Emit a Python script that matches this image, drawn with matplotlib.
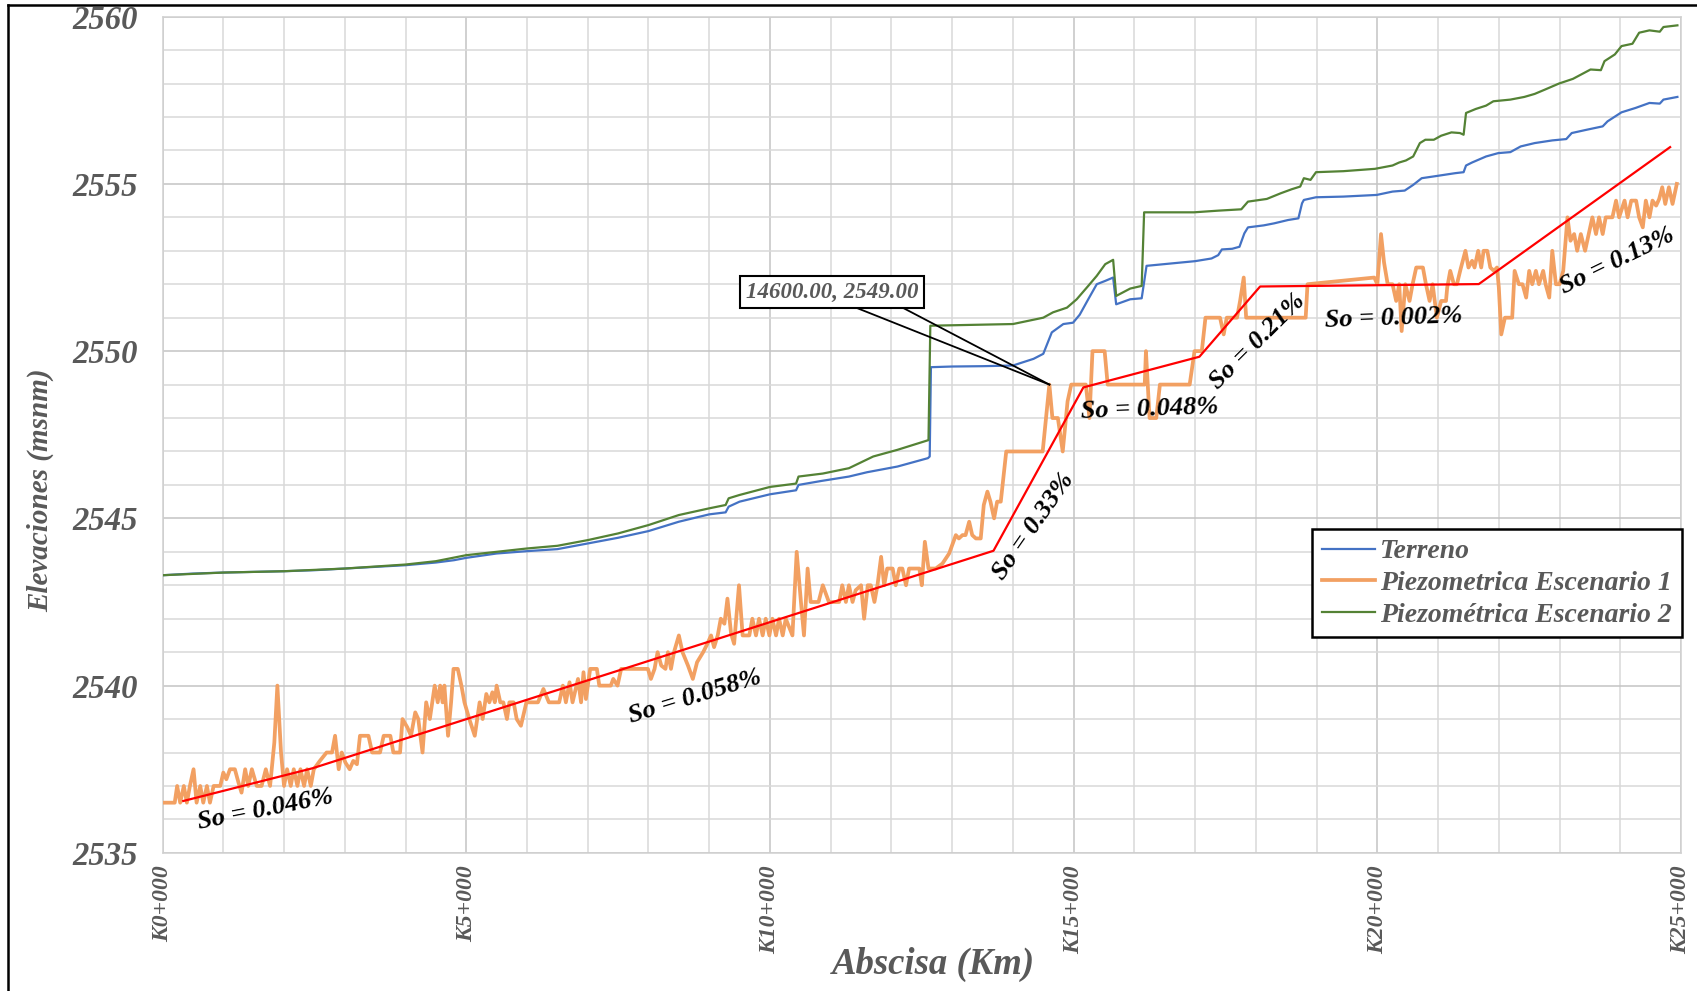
import numpy as np
import matplotlib.pyplot as plt
from matplotlib.lines import Line2D

plt.rcParams['font.family'] = ['Liberation Serif', 'DejaVu Serif']

GREY = '#595959'

# Terreno (abscisa en m, cota en msnm)
terreno_x = [0, 500, 1000, 1500, 2000, 2500, 3000, 3500, 4000, 4500, 4800, 5000,
             5500, 6000, 6500, 7000, 7500, 8000, 8500, 9000, 9270, 9320, 9500,
             10000, 10430, 10470, 10850, 11300, 11600, 12100, 12600, 12630, 12650,
             13000, 13500, 14000, 14340, 14500, 14640, 14830, 14990, 15100, 15240,
             15380, 15520, 15650, 15700, 15930, 16120, 16200, 16600, 17000, 17270,
             17380, 17440, 17610, 17730, 17810, 17870, 18130, 18300, 18530, 18700,
             18760, 18790, 18990, 19440, 19990, 20250, 20450, 20590, 20730, 20990,
             21280, 21420, 21460, 21560, 21790, 21990, 22190, 22360, 22590, 22880,
             23110, 23200, 23450, 23710, 23790, 24020, 24250, 24480, 24650, 24710,
             24940]
terreno_y = [2543.30, 2543.35, 2543.38, 2543.40, 2543.42, 2543.45, 2543.50, 2543.55,
             2543.60, 2543.68, 2543.75, 2543.82, 2543.95, 2544.02, 2544.08, 2544.25,
             2544.42, 2544.62, 2544.90, 2545.12, 2545.18, 2545.35, 2545.50, 2545.72,
             2545.84, 2546.00, 2546.12, 2546.25, 2546.38, 2546.55, 2546.80, 2546.85,
             2549.52, 2549.54, 2549.55, 2549.57, 2549.77, 2549.92, 2550.56, 2550.81,
             2550.85, 2551.09, 2551.55, 2552.00, 2552.10, 2552.20, 2551.40, 2551.55,
             2551.58, 2552.55, 2552.62, 2552.69, 2552.77, 2552.87, 2553.04, 2553.06,
             2553.12, 2553.52, 2553.70, 2553.76, 2553.82, 2553.92, 2553.97, 2554.42,
             2554.52, 2554.60, 2554.62, 2554.67, 2554.77, 2554.80, 2554.97, 2555.17,
             2555.24, 2555.32, 2555.35, 2555.55, 2555.64, 2555.82, 2555.92, 2555.95,
             2556.12, 2556.22, 2556.30, 2556.34, 2556.52, 2556.62, 2556.72, 2556.87,
             2557.14, 2557.27, 2557.42, 2557.40, 2557.52, 2557.60]

# Piezometrica escenario 1
esc1_x = [0, 200, 240, 290, 350, 400, 450, 510, 560, 620, 670, 730, 780, 840, 950,
          1000, 1050, 1110, 1190, 1250, 1300, 1360, 1410, 1470, 1550, 1630, 1700,
          1770, 1840, 1890, 1950, 2000, 2050, 2110, 2160, 2220, 2270, 2330, 2380,
          2440, 2490, 2590, 2700, 2790, 2840, 2900, 2950, 3010, 3080, 3140, 3200,
          3250, 3390, 3450, 3580, 3640, 3750, 3800, 3910, 3950, 4030, 4090, 4160,
          4210, 4280, 4340, 4400, 4480, 4530, 4570, 4610, 4640, 4700, 4750, 4790,
          4860, 4920, 4970, 5050, 5140, 5220, 5270, 5330, 5380, 5430, 5470, 5500,
          5560, 5610, 5670, 5710, 5780, 5830, 5900, 5990, 6100, 6180, 6270, 6360,
          6530, 6590, 6640, 6700, 6750, 6840, 6890, 6930, 6970, 7040, 7150, 7190,
          7380, 7420, 7490, 7550, 7990, 8040, 8100, 8150, 8210, 8280, 8320, 8370,
          8420, 8500, 8560, 8650, 8730, 8800, 8900, 8970, 9030, 9080, 9140, 9190,
          9250, 9300, 9360, 9410, 9490, 9550, 9660, 9710, 9770, 9820, 9880, 9930,
          9990, 10040, 10100, 10150, 10210, 10260, 10370, 10440, 10510, 10560,
          10620, 10670, 10800, 10870, 10920, 10970, 11140, 11190, 11250, 11300,
          11360, 11410, 11500, 11550, 11610, 11660, 11720, 11770, 11830, 11880,
          11930, 12020, 12070, 12130, 12180, 12240, 12290, 12460, 12500, 12550,
          12610, 12730, 12840, 12950, 13060, 13110, 13170, 13220, 13280, 13330,
          13390, 13470, 13520, 13580, 13630, 13690, 13740, 13800, 13890, 14490,
          14600, 14650, 14740, 14820, 14900, 14960, 15200, 15260, 15310, 15510,
          15560, 16170, 16190, 16250, 16360, 16420, 16910, 16990, 17110, 17170,
          17410, 17470, 17520, 17690, 17740, 17800, 17840, 18820, 18850, 19950,
          20000, 20060, 20110, 20170, 20250, 20310, 20360, 20400, 20460, 20530,
          20580, 20640, 20750, 20800, 20860, 20910, 20980, 21050, 21130, 21150,
          21200, 21260, 21310, 21370, 21450, 21500, 21560, 21600, 21660, 21710,
          21750, 21810, 21860, 21920, 21970, 22000, 22040, 22100, 22220, 22260,
          22330, 22390, 22450, 22500, 22550, 22610, 22660, 22730, 22770, 22830,
          22880, 22940, 23000, 23060, 23130, 23180, 23240, 23290, 23350, 23420,
          23480, 23540, 23600, 23650, 23710, 23760, 23870, 23930, 23980, 24070,
          24120, 24180, 24260, 24310, 24370, 24420, 24480, 24530, 24590, 24640,
          24690, 24740, 24800, 24860, 24930]
esc1_y = [2536.5, 2536.5, 2537.0, 2536.5, 2537.0, 2536.5, 2537.0, 2537.5, 2536.5,
          2537.0, 2536.5, 2537.0, 2536.5, 2537.0, 2537.0, 2537.4, 2537.2, 2537.5,
          2537.5, 2537.1, 2536.8, 2537.5, 2537.0, 2537.5, 2537.0, 2537.0, 2537.5,
          2537.0, 2538.3, 2540.0, 2538.0, 2537.0, 2537.5, 2537.0, 2537.5, 2537.0,
          2537.5, 2537.0, 2537.5, 2537.0, 2537.5, 2537.75, 2538.0, 2538.0, 2538.5,
          2537.5, 2538.0, 2537.7, 2537.5, 2537.75, 2537.65, 2538.5, 2538.5, 2538.0,
          2538.0, 2538.5, 2538.5, 2538.0, 2538.0, 2539.0, 2538.75, 2538.5, 2539.2,
          2539.0, 2538.0, 2539.5, 2539.0, 2540.0, 2539.5, 2540.0, 2539.5, 2540.0,
          2538.5, 2539.5, 2540.5, 2540.5, 2540.0, 2539.5, 2539.0, 2538.5, 2539.5,
          2539.0, 2539.75, 2539.5, 2539.8, 2539.5, 2540.0, 2539.5, 2539.5, 2539.0,
          2539.5, 2539.5, 2539.0, 2538.8, 2539.5, 2539.5, 2539.5, 2539.9, 2539.5,
          2539.5, 2540.0, 2539.5, 2540.1, 2539.5, 2540.2, 2539.5, 2540.4, 2539.6,
          2540.5, 2540.5, 2540.0, 2540.0, 2540.2, 2540.0, 2540.5, 2540.5, 2540.2,
          2540.5, 2541.0, 2540.6, 2540.5, 2541.0, 2540.5, 2541.0, 2541.5, 2541.0,
          2540.6, 2540.2, 2540.7, 2541.0, 2541.25, 2541.5, 2541.15, 2541.5, 2542.0,
          2541.85, 2542.6, 2541.55, 2541.25, 2543.0, 2541.5, 2541.5, 2542.0, 2541.5,
          2542.0, 2541.5, 2542.0, 2541.5, 2542.0, 2541.5, 2542.0, 2541.5, 2542.0,
          2541.5, 2544.0, 2542.5, 2541.5, 2543.5, 2542.5, 2542.5, 2543.0, 2542.75,
          2542.5, 2542.5, 2543.0, 2542.5, 2543.0, 2542.5, 2542.85, 2543.0, 2542.0,
          2543.0, 2543.0, 2542.5, 2543.0, 2543.85, 2543.0, 2543.5, 2543.5, 2543.0,
          2543.5, 2543.5, 2543.0, 2543.5, 2543.5, 2543.0, 2544.3, 2543.5, 2543.5,
          2543.65, 2543.95, 2544.5, 2544.4, 2544.5, 2544.5, 2544.9, 2544.5, 2544.4,
          2544.4, 2545.4, 2545.8, 2545.5, 2545.0, 2545.5, 2545.5, 2547.0, 2547.0,
          2549.0, 2548.0, 2548.0, 2547.0, 2548.5, 2549.0, 2549.0, 2548.0, 2550.0,
          2550.0, 2549.0, 2549.0, 2550.0, 2548.0, 2548.0, 2549.0, 2549.0, 2550.0,
          2550.0, 2551.0, 2551.0, 2550.5, 2551.0, 2551.0, 2551.5, 2552.2, 2551.0,
          2551.0, 2552.0, 2552.2, 2552.0, 2553.5, 2552.65, 2552.0, 2552.0, 2551.5,
          2552.0, 2550.6, 2552.0, 2551.5, 2552.0, 2552.5, 2552.5, 2552.0, 2551.5,
          2552.0, 2551.0, 2551.5, 2551.5, 2551.9, 2552.4, 2552.0, 2552.0, 2552.45,
          2553.0, 2552.5, 2552.7, 2552.5, 2553.0, 2552.5, 2553.0, 2553.0, 2552.5,
          2552.4, 2552.5, 2551.9, 2550.5, 2551.0, 2551.0, 2552.4, 2552.0, 2552.0,
          2551.6, 2552.4, 2552.0, 2552.4, 2552.0, 2552.4, 2552.0, 2551.6, 2553.0,
          2552.0, 2552.0, 2552.4, 2554.0, 2553.3, 2553.5, 2553.0, 2553.5, 2553.0,
          2553.5, 2554.0, 2553.5, 2554.0, 2553.5, 2554.0, 2554.0, 2554.5, 2554.0,
          2554.5, 2554.0, 2554.5, 2554.5, 2554.0, 2553.7, 2554.5, 2554.0, 2554.5,
          2554.35, 2554.55, 2554.9, 2554.4, 2554.9, 2554.4, 2555.0]

# Piezometrica escenario 2
esc2_x = [0, 1000, 2000, 3000, 4000, 4500, 5000, 5500, 6000, 6500, 7000, 7500,
          8000, 8500, 9000, 9270, 9320, 9500, 10000, 10430, 10470, 10870, 11300,
          11700, 12100, 12610, 12640, 14000, 14500, 14660, 14890, 15050, 15240,
          15380, 15520, 15650, 15700, 15930, 16120, 16160, 16980, 17380, 17760,
          17870, 18180, 18410, 18590, 18730, 18790, 18900, 18990, 19440, 19960,
          20250, 20360, 20470, 20590, 20700, 20790, 20930, 21050, 21220, 21360,
          21420, 21460, 21620, 21790, 21910, 22190, 22420, 22590, 22760, 22990,
          23220, 23510, 23680, 23740, 23910, 24020, 24200, 24310, 24480, 24650,
          24710, 24940]
esc2_y = [2543.30, 2543.38, 2543.42, 2543.50, 2543.62, 2543.72, 2543.90, 2544.00,
          2544.10, 2544.18, 2544.35, 2544.55, 2544.80, 2545.10, 2545.30, 2545.40,
          2545.60, 2545.70, 2545.94, 2546.04, 2546.25, 2546.34, 2546.50, 2546.85,
          2547.05, 2547.34, 2550.76, 2550.81, 2551.00, 2551.16, 2551.30, 2551.55,
          2551.95, 2552.25, 2552.60, 2552.73, 2551.65, 2551.87, 2551.95, 2554.15,
          2554.15, 2554.20, 2554.24, 2554.47, 2554.55, 2554.72, 2554.84, 2554.92,
          2555.17, 2555.12, 2555.35, 2555.38, 2555.45, 2555.55, 2555.64, 2555.70,
          2555.82, 2556.22, 2556.32, 2556.32, 2556.44, 2556.54, 2556.52, 2556.47,
          2557.12, 2557.24, 2557.34, 2557.47, 2557.52, 2557.60, 2557.69, 2557.82,
          2558.00, 2558.14, 2558.42, 2558.40, 2558.67, 2558.87, 2559.12, 2559.19,
          2559.52, 2559.59, 2559.55, 2559.69, 2559.74]

# tramos de pendiente So (%): quiebres de la poligonal y cota inicial
so_values = [0.046, 0.058, 0.33, 0.048, 0.21, 0.002, 0.13]
so_break_x = [340, 2470, 13680, 15160, 17070, 18070, 21670, 24820]
so_y0 = 2536.55
so_text_x = [1690, 8760, 14340, 16250, 18030, 20270, 23950]
so_text_y = [2536.29, 2539.67, 2544.76, 2548.27, 2550.30, 2550.98, 2552.70]
so_text_rot = [11, 17, 55, 2, 45, 2, 26]

# punto senalado
callout_x = 14600
callout_y = 2549.0

xtick_pos = [0, 5000, 10000, 15000, 20000, 25000]
xtick_lbl = ['K0+000', 'K5+000', 'K10+000', 'K15+000', 'K20+000', 'K25+000']
ytick_pos = [2535, 2540, 2545, 2550, 2555, 2560]

fig = plt.figure(figsize=(16.97, 9.91), dpi=100)
ax = fig.add_axes([0.0958, 0.1394, 0.8948, 0.8438])

ax.plot(terreno_x, terreno_y, color='#4472C4', lw=1.6, label='Terreno', zorder=3)
ax.plot(esc1_x, esc1_y, color='#F2A062', lw=2.7, label='Piezometrica Escenario 1', zorder=3)
ax.plot(esc2_x, esc2_y, color='#548235', lw=1.6, label='Piezométrica Escenario 2', zorder=3)

# poligonal de pendientes: cada tramo sube So% de su longitud
bx = np.array(so_break_x, dtype=float)
by = so_y0 + np.concatenate([[0], np.cumsum(np.array(so_values) / 100 * np.diff(bx))])
ax.plot(bx, by, color='#FF0000', lw=1.6, zorder=4)

for s, tx, ty, rot in zip(so_values, so_text_x, so_text_y, so_text_rot):
    ax.text(tx, ty, f'So = {s:g}%', fontsize=19, fontweight='bold', fontstyle='italic',
            color='black', rotation=rot, ha='center', va='center',
            rotation_mode='anchor', zorder=5)

# etiqueta tipo globo
box_x, box_y = 11020, 2551.76
ax.plot([11320, callout_x], [2551.37, callout_y], color='black', lw=1.3, zorder=5)
ax.plot([12110, callout_x], [2551.37, callout_y], color='black', lw=1.3, zorder=5)
ax.text(box_x, box_y, f'{callout_x:.2f}, {callout_y:.2f}', fontsize=16.5,
        fontweight='bold', fontstyle='italic', color=GREY, ha='center', va='center',
        zorder=6, bbox=dict(boxstyle='square,pad=0.25', fc='white', ec='black', lw=1.5))

ax.set_xlim(0, 25000)
ax.set_ylim(2535, 2560)
ax.set_xticks(xtick_pos)
ax.set_xticklabels(xtick_lbl, rotation=90)
ax.set_xticks(range(0, 25001, 1000), minor=True)
ax.set_yticks(ytick_pos)
ax.set_yticks(range(2535, 2561), minor=True)
ax.tick_params(which='both', length=0)
ax.tick_params(axis='x', pad=9)
ax.tick_params(axis='y', pad=18)
for lbl in ax.get_xticklabels():
    lbl.set(fontsize=17, fontweight='bold', fontstyle='italic', color=GREY)
for lbl in ax.get_yticklabels():
    lbl.set(fontsize=23.5, fontweight='bold', fontstyle='italic', color=GREY)

ax.grid(which='minor', color='#d9d9d9', lw=1.1)
ax.grid(which='major', color='#c4c4c4', lw=1.1)
ax.set_axisbelow(True)
for sp in ax.spines.values():
    sp.set_color('#d0d0d0')
    sp.set_linewidth(1.1)

fig.text(933 / 1697, 1 - 964 / 991, 'Abscisa (Km)', fontsize=26.5, fontweight='bold',
         fontstyle='italic', color=GREY, ha='center', va='center')
fig.text(41 / 1697, 1 - 490 / 991, 'Elevaciones (msnm)', fontsize=21, fontweight='bold',
         fontstyle='italic', color=GREY, ha='center', va='center', rotation=90)

leg = ax.legend(loc='upper left', bbox_to_anchor=(0.757, 0.387), borderaxespad=0,
                fancybox=False, framealpha=1, edgecolor='black', handlelength=1.9,
                labelspacing=0.22, borderpad=0.35, handletextpad=0.2,
                prop=dict(family='Liberation Serif', weight='bold', style='italic', size=20))
leg.get_frame().set_linewidth(1.8)
for t in leg.get_texts():
    t.set_color(GREY)

# marco exterior
fig.add_artist(Line2D([0.0047, 0.0047], [0, 0.9945], color='black', lw=1.8))
fig.add_artist(Line2D([0.0047, 1], [0.9945, 0.9945], color='black', lw=1.8))

fig.savefig('out.png', dpi=100)
